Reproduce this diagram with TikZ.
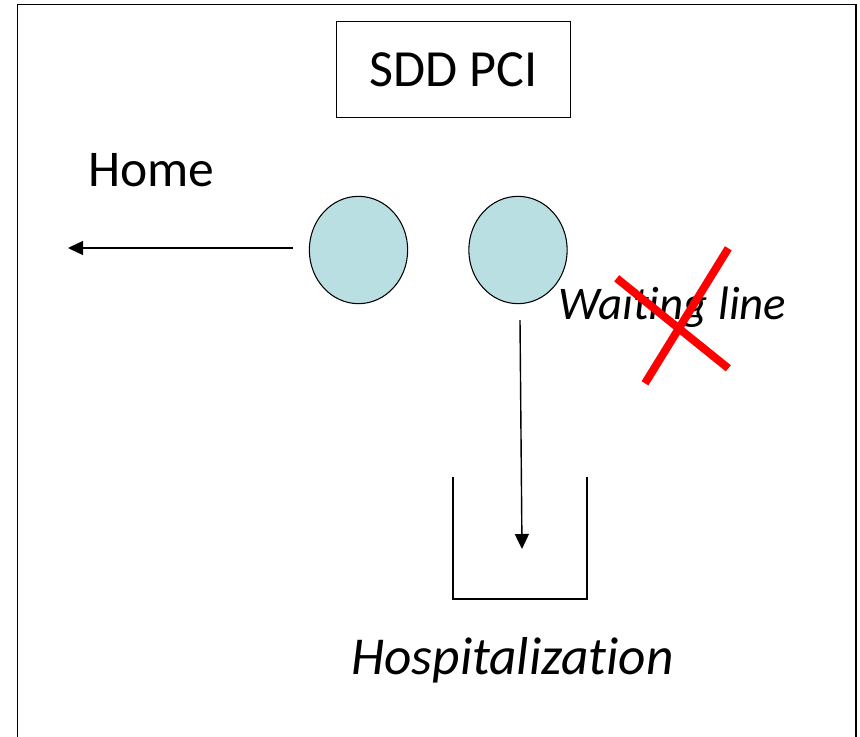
\documentclass[tikz,border=0pt]{standalone}
\usepackage{fontspec}
\setmainfont[Ligatures=NoCommon]{Carlito}
\usetikzlibrary{arrows.meta,positioning,shapes.geometric}
\definecolor{queueblue}{RGB}{185,223,227}
\definecolor{crossred}{RGB}{255,0,0}

\begin{document}
\begin{tikzpicture}[x=0.03cm, y=-0.03cm,
    server/.style={ellipse, draw, line width=0.9pt, fill=queueblue, minimum width=2.95cm, minimum height=3.22cm, inner sep=0pt},
    titlebox/.style={draw, line width=0.8pt, minimum width=7.03cm, minimum height=2.89cm, inner sep=0pt, font=\fontsize{44.5}{52}\selectfont},
    lbl/.style={inner sep=0pt, font=\fontsize{44}{52}\selectfont},
    flow/.style={line width=1.2pt, -{Triangle[length=0.45cm, width=0.42cm]}},
    cross/.style={crossred, line width=6.8pt}
  ]
  \useasboundingbox (0,0) rectangle (860,737);

  % outer frame (open at the bottom)
  \draw[line width=1.7pt] (17.5,760) -- (17.5,4.5) -- (856,4.5) -- (856,760);

  % title
  \node[titlebox] (title) at (453.5,69.5) {SDD PCI};

  % servers
  \node[server] (srvA) at (358.5,250) {};
  \node[server] (srvB) at (518,250) {};

  % Home
  \node[lbl, anchor=base] (home) at (151.5,187) {Home};
  \coordinate (homeend) at (68,248);
  \path (srvA.west) ++(-16,-2) coordinate (homestart);
  \draw[flow] (homestart) -- (homeend);

  % Hospitalization bin
  \coordinate (binL) at (453,477);
  \coordinate (binR) at (587,477);
  \draw[line width=1.3pt] (binL) -- (binL |- 0,599) -- (binR |- 0,599) -- (binR);
  \coordinate (binend) at (522,549);
  \path (srvB.south) ++(2,16) coordinate (hospstart);
  \draw[flow] (hospstart) -- (binend);
  \node[lbl, anchor=base, font=\fontsize{45.5}{52}\selectfont\itshape] (hosp) at (512.5,674) {Hospitalization};

  % Waiting line, crossed out
  \node[lbl, anchor=base, font=\fontsize{40}{48}\selectfont\itshape] (wait) at (672.5,320) {Waiting line};
  \draw[cross] (616.7,278.3) -- (728.3,368.3);
  \draw[cross] (728.3,248.3) -- (645,383.3);
\end{tikzpicture}
\end{document}
